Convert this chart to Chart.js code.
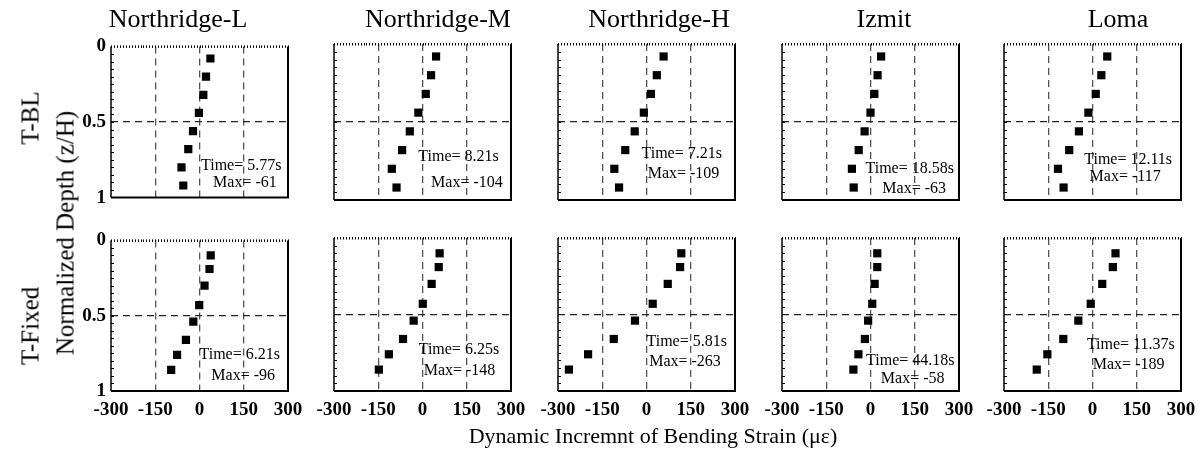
<!DOCTYPE html>
<html lang="en">
<head>
<meta charset="UTF-8">
<title>Dynamic Increment of Bending Strain</title>
<script src="https://cdn.jsdelivr.net/npm/chart.js"></script>
<style>
    body {
        margin: 0;
        width: 1204px;
        height: 451px;
        background: #fff;
        position: relative;
        overflow: hidden;
        color: #000;
    }
    canvas { position: absolute; }
    .lbl {
        position: absolute;
        white-space: nowrap;
        line-height: 1;
        color: #000;
        font-family: "Liberation Serif", "DejaVu Serif", serif;
        transform: translate(-50%, -50%);
        will-change: transform;
    }
    .rot { transform: translate(-50%, -50%) rotate(-90deg); }
</style>
</head>
<body>
<script>
// ---- data ----
const motions = ['Northridge-L', 'Northridge-M', 'Northridge-H', 'Izmit', 'Loma'];
const rowNames = ['T-BL', 'T-Fixed'];

// normalized depth of the gauges (z/H)
const depthBL    = [0.08, 0.20, 0.32, 0.44, 0.56, 0.68, 0.80, 0.92];
const depthFixed = [0.10, 0.19, 0.30, 0.43, 0.54, 0.66, 0.76, 0.86];

// bending strain increment (micro strain), top to bottom
const blNorthL = [37, 22, 13, -2, -22, -38, -61, -55];
const blNorthM = [46, 29, 11, -14, -43, -69, -104, -88];
const blNorthH = [58, 35, 15, -9, -40, -72, -109, -93];
const blIzmit  = [36, 24, 13, 0, -20, -40, -63, -57];
const blLoma   = [50, 30, 11, -14, -46, -79, -117, -98];

const fxNorthL = [38, 34, 17, -1, -21, -46, -76, -96];
const fxNorthM = [58, 55, 31, 1, -30, -66, -114, -148];
const fxNorthH = [118, 114, 72, 21, -39, -111, -198, -263];
const fxIzmit  = [23, 23, 14, 6, -8, -19, -41, -58];
const fxLoma   = [78, 69, 33, -6, -48, -99, -153, -189];

const timesBL    = ['5.77', '8.21', '7.21', '18.58', '12.11'];
const timesFixed = ['6.21', '6.25', '5.81', '44.18', '11.37'];
const maxBL      = [-61, -104, -109, -63, -117];
const maxFixed   = [-96, -148, -263, -58, -189];

const xTicks = [-300, -150, 0, 150, 300];
const xTickLabels = ['-300', '-150', '0', '150', '300'];
const yTicks = [0, 0.5, 1];
const yTickLabels = ['0', '0.5', '1'];

// ---- layout ----
const colLeft = [111, 334, 558, 782, 1004];
const plotW = 177;
const rowTop = [44, 238];
const rowBottom = [200, 391];
const PAD_L = 40, PAD_T = 14, PAD_R = 26;
const serif = '"Liberation Serif", "DejaVu Serif", serif';

// where the Time/Max notes sit, in data units [x, depth]
const notePos = [
    [[5, 0.79], [46, 0.90]], [[-14, 0.72], [29, 0.89]], [[-17, 0.705], [4, 0.83]],
    [[-17, 0.80], [40, 0.93]], [[-28, 0.74], [-10, 0.85]],
    [[0, 0.76], [40, 0.90]], [[-13, 0.73], [4, 0.87]], [[0, 0.68], [9, 0.81]],
    [[-15, 0.80], [35, 0.92]], [[-19, 0.70], [1, 0.83]]
];

const series = [
    [blNorthL, blNorthM, blNorthH, blIzmit, blLoma],
    [fxNorthL, fxNorthM, fxNorthH, fxIzmit, fxLoma]
];
const depths = [depthBL, depthFixed];
const times = [timesBL, timesFixed];
const maxes = [maxBL, maxFixed];

// frame with dotted top edge and small ticks on the left edge
const framePlugin = {
    id: 'frame',
    afterDraw(chart) {
        const { ctx, chartArea: a, scales: { x, y } } = chart;
        ctx.save();
        ctx.strokeStyle = '#000';
        ctx.lineWidth = 2;
        ctx.beginPath();
        ctx.moveTo(a.left, a.bottom);
        ctx.lineTo(a.right, a.bottom);
        ctx.lineTo(a.right, a.top);
        ctx.stroke();
        ctx.lineWidth = 1.5;
        ctx.beginPath();
        ctx.moveTo(a.left, a.top);
        ctx.lineTo(a.left, a.bottom);
        ctx.stroke();
        ctx.lineWidth = 1;
        ctx.beginPath();
        for (let v = -300; v <= 300; v += 10) {
            const px = Math.round(x.getPixelForValue(v)) + 0.5;
            ctx.moveTo(px, a.top - 1);
            ctx.lineTo(px, a.top + 1.5);
        }
        for (let v = 0.05; v < 1; v += 0.05) {
            const py = Math.round(y.getPixelForValue(v)) + 0.5;
            ctx.moveTo(a.left, py);
            ctx.lineTo(a.left + 3, py);
        }
        ctx.stroke();
        ctx.restore();
    }
};

const notePlugin = {
    id: 'notes',
    afterDatasetsDraw(chart, args, opts) {
        const { ctx, scales: { x, y } } = chart;
        ctx.save();
        ctx.font = '16px ' + serif;
        ctx.fillStyle = '#000';
        ctx.textBaseline = 'middle';
        opts.items.forEach(it => {
            ctx.fillText(it.text, x.getPixelForValue(it.at[0]), y.getPixelForValue(it.at[1]));
        });
        ctx.restore();
    }
};

function addLabel(text, cx, cy, size, rotate) {
    const d = document.createElement('div');
    d.className = 'lbl' + (rotate ? ' rot' : '');
    d.textContent = text;
    d.style.left = cx + 'px';
    d.style.top = cy + 'px';
    d.style.fontSize = size + 'px';
    document.body.appendChild(d);
}

for (let r = 0; r < 2; r++) {
    for (let c = 0; c < 5; c++) {
        const xh = r === 1 ? 36 : 14;
        const w = PAD_L + plotW + PAD_R;
        const h = PAD_T + (rowBottom[r] - rowTop[r]) + xh;
        const canvas = document.createElement('canvas');
        canvas.width = w;
        canvas.height = h;
        canvas.style.width = w + 'px';
        canvas.style.height = h + 'px';
        canvas.style.left = (colLeft[c] - PAD_L) + 'px';
        canvas.style.top = (rowTop[r] - PAD_T) + 'px';
        document.body.appendChild(canvas);

        const vals = series[r][c];
        const pos = notePos[r * 5 + c];

        new Chart(canvas, {
            type: 'scatter',
            data: {
                datasets: [{
                    data: vals.map((v, i) => ({ x: v, y: depths[r][i] })),
                    pointStyle: 'rect',
                    pointRadius: 5.8,
                    pointHoverRadius: 5.8,
                    backgroundColor: '#000',
                    borderWidth: 0
                }]
            },
            options: {
                responsive: false,
                animation: false,
                devicePixelRatio: 1,
                events: [],
                layout: { padding: { left: 0, top: PAD_T, right: PAD_R, bottom: 0 } },
                plugins: {
                    legend: { display: false },
                    tooltip: { enabled: false },
                    notes: {
                        items: [
                            { text: 'Time= ' + times[r][c] + 's', at: pos[0] },
                            { text: 'Max= ' + maxes[r][c], at: pos[1] }
                        ]
                    }
                },
                scales: {
                    x: {
                        type: 'linear',
                        min: -300,
                        max: 300,
                        afterBuildTicks: s => { s.ticks = xTicks.map(v => ({ value: v })); },
                        afterFit: s => { s.height = xh; },
                        ticks: {
                            display: r === 1,
                            autoSkip: false,
                            maxRotation: 0,
                            padding: 8,
                            color: '#000',
                            font: { family: serif, size: 19, weight: 'bold' },
                            callback: v => xTickLabels[xTicks.indexOf(v)]
                        },
                        grid: {
                            drawTicks: false,
                            lineWidth: 1.3,
                            color: ctx => (ctx.tick && [-150, 0, 150].includes(ctx.tick.value)) ? '#555' : 'rgba(0,0,0,0)'
                        },
                        border: { display: false, dash: [7, 5] }
                    },
                    y: {
                        type: 'linear',
                        reverse: true,
                        min: 0,
                        max: 1,
                        afterBuildTicks: s => { s.ticks = yTicks.map(v => ({ value: v })); },
                        afterFit: s => { s.width = PAD_L; },
                        ticks: {
                            display: c === 0,
                            padding: 5,
                            color: '#000',
                            font: { family: serif, size: 19, weight: 'bold' },
                            callback: v => yTickLabels[yTicks.indexOf(v)]
                        },
                        grid: {
                            drawTicks: false,
                            lineWidth: 1.3,
                            color: ctx => (ctx.tick && ctx.tick.value === 0.5) ? '#222' : 'rgba(0,0,0,0)'
                        },
                        border: { display: false, dash: [7, 5] }
                    }
                }
            },
            plugins: [framePlugin, notePlugin]
        });
    }
}

// titles and axis names
const titleX = [178, 438, 659, 884, 1118];
motions.forEach((m, i) => addLabel(m, titleX[i], 19, 26, false));
addLabel(rowNames[0], 30, 118, 25, true);
addLabel(rowNames[1], 30, 326, 25, true);
addLabel('Normalized Depth (z/H)', 65, 233, 25, true);
addLabel('Dynamic Incremnt of Bending Strain (\u03bc\u03b5)', 653, 436, 22, false);
</script>
</body>
</html>
